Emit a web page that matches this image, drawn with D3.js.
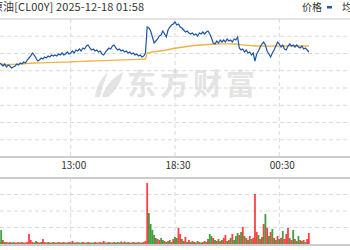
<!doctype html>
<html>
<head>
<script src="https://cdnjs.cloudflare.com/ajax/libs/d3/7.8.5/d3.min.js"></script>
<style>
  body { margin: 0; background: #fff; }
  svg { display: block; }
  text { font-family: "Noto Sans CJK SC", "DejaVu Sans", sans-serif; fill: #333; }
  .grid { stroke: #d9d9d9; stroke-width: 1px; stroke-dasharray: 4,3; }
</style>
</head>
<body>
<svg width="350" height="250"></svg>
<script>
// minute slots, 4 sections of 60 across the full (cropped) chart
var firstSlot = 19;
var tickSlots = [60, 120, 180];
var tickLabels = ["13:00", "18:30", "00:30"];

var prices = [
  55.84,55.83,55.81,55.83,55.80,55.82,55.81,55.79,55.80,55.81,
  55.83,55.82,55.84,55.83,55.85,55.84,55.87,55.89,55.91,55.94,
  55.92,55.89,55.86,55.87,55.89,55.88,55.90,55.89,55.91,55.90,
  55.92,55.91,55.92,55.91,55.93,55.92,55.94,55.92,55.93,55.95,
  55.93,55.94,55.96,55.94,55.97,55.96,55.98,55.96,55.99,55.98,
  56.01,56.02,55.99,55.97,55.98,55.96,55.97,55.95,55.96,55.93,
  55.92,55.95,55.97,55.99,55.98,56.01,56.02,55.99,55.97,55.98,
  55.96,55.97,55.95,55.96,55.94,55.95,55.93,55.94,55.92,55.93,
  55.91,55.92,55.90,55.91,55.94,56.20,56.19,56.16,56.10,56.04,
  56.06,56.08,56.11,56.12,56.16,56.13,56.10,56.17,56.20,56.22,
  56.23,56.25,56.22,56.23,56.20,56.19,56.17,56.15,56.16,56.14,
  56.13,56.14,56.12,56.13,56.11,56.14,56.13,56.15,56.13,56.15,
  56.16,56.13,56.09,56.04,56.03,56.06,56.04,56.07,56.05,56.07,
  56.05,56.08,56.06,56.07,56.05,56.08,56.07,56.10,55.99,55.97,
  55.98,55.95,55.97,55.94,55.95,55.92,55.94,55.86,55.93,55.96,
  56.00,56.03,56.05,56.02,55.96,55.93,55.90,55.94,55.97,56.01,
  56.05,56.03,56.00,56.02,55.98,55.97,56.01,56.03,56.01,56.02,
  56.00,56.02,56.00,55.99,56.01,55.98,55.99,55.97,55.95
];

var avgSlots = [19,23,27,31,35,39,43,47,51,55,59,63,67,71,75,79,83,87,91,95,99,103,
  104,107,111,115,119,123,127,131,135,139,143,147,151,155,159,163,167,171,175,179,183,187,191,195,197];
var avgPrices = [55.830,55.825,55.827,55.832,55.835,55.840,55.842,55.844,55.846,55.848,55.850,
  55.854,55.857,55.860,55.862,55.864,55.867,55.869,55.871,55.874,55.877,55.880,
  55.940,55.950,55.960,55.970,55.985,55.995,56.005,56.015,56.020,56.025,56.030,56.032,56.032,
  56.030,56.022,56.015,56.010,56.010,56.008,56.010,56.010,56.010,56.010,56.010,56.010];

var volumes = [
  1800,8400,2400,1200,1200,900,1200,900,1200,900,
  900,1200,900,1200,900,900,1200,6000,2400,1200,
  900,1800,1200,900,1200,3000,1200,900,1200,900,
  900,1200,900,900,1200,900,900,1200,900,900,
  1200,900,1800,900,900,1200,900,900,1200,900,
  900,1200,900,900,900,1200,900,900,1200,900,
  1800,900,900,1200,900,900,1200,900,1200,900,
  1500,900,1500,900,1200,900,900,1200,900,900,
  1200,900,900,1200,1800,36600,18600,12000,8400,5400,
  3600,3000,2400,3600,2400,1800,1200,1800,2400,1200,
  3000,4200,3600,9600,6000,3000,1800,4200,1200,2400,
  1200,1800,1200,900,1800,1200,900,1200,1800,1200,
  3000,6000,4800,3600,2400,1800,3000,1800,2400,3600,
  5400,1800,2400,3600,6000,2400,4800,6600,5400,7200,
  10200,4800,3600,2400,4800,3000,3600,30000,7200,5400,
  3000,4200,12000,18000,9600,4800,7200,9000,3600,2400,
  4800,3000,3600,7800,3000,6000,9600,3600,2400,8400,
  3000,1800,4800,2400,1800,2400,1200,3000,6600
];
var volumeDirs =
  "ggrgrgrrgr" + "rgrrgrrrrr" + "ggrrgrrgrg" + "rgrgrrgrgr" + "grrgrgrgrg" +
  "rgrggrgrrg" + "rgrgrgrggr" + "grrggrgrgr" + "grgrrrgggg" + "rgrggrgrgr" +
  "rggrrgrrgr" + "grgrgrgrgr" + "rggrgrgrgr" + "rgrgrgggrg" + "rgrgrgrrrg" +
  "rgrgrgrgrg" + "rgrgrrrgrg" + "rggrgrgrr";

var svg = d3.select("svg");

var x = d3.scaleLinear().domain([0, 240]).range([-33.6, 383.6]);
var y = d3.scaleLinear().domain([54.90, 56.28]).range([157, 19]);
var yv = d3.scaleLinear().domain([0, 39600]).range([244, 178]);

var yTicks = d3.range(9).map(i => 54.90 + i * (56.28 - 54.90) / 8);
var vTicks = d3.range(5).map(i => i * 39600 / 4);

// header
svg.append("text")
    .attr("x", -8).attr("y", 11)
    .attr("textLength", 152).attr("lengthAdjust", "spacing")
    .style("font-size", "11px")
    .text("原油[CL00Y] 2025-12-18 01:58");
svg.append("text").attr("x", 302).attr("y", 11).style("font-size", "10px").text("价格");
svg.append("rect").attr("x", 327).attr("y", 6).attr("width", 5).attr("height", 2.5).attr("fill", "#1f5bab");
svg.append("text").attr("x", 342).attr("y", 11).style("font-size", "10px").text("均价");

// watermark
var wm = svg.append("g").attr("fill", "#e4e4e4");
wm.append("path").attr("d", "M95,97 C96,88 100,79 108,72 C105,80 102,88 100,97 Z");
wm.append("path").attr("d", "M102,97 C105,86 113,77 123,72 C121,82 116,91 108,97 Z");
wm.append("text")
    .attr("x", 127).attr("y", 95)
    .style("font-size", "29px").style("font-weight", "bold")
    .style("letter-spacing", "4px").style("fill", "#e4e4e4")
    .text("东方财富");

// price grid
svg.selectAll(".pg").data(yTicks.slice(1, 8)).enter().append("line")
    .attr("class", "grid")
    .attr("x1", 0).attr("x2", 350)
    .attr("y1", d => y(d)).attr("y2", d => y(d));
svg.selectAll(".pv").data(tickSlots).enter().append("line")
    .attr("class", "grid")
    .attr("x1", d => x(d)).attr("x2", d => x(d))
    .attr("y1", y(yTicks[8])).attr("y2", y(yTicks[0]));
svg.append("line").attr("x1", 0).attr("x2", 350).attr("y1", y(yTicks[8])).attr("y2", y(yTicks[8]))
    .attr("stroke", "#c8c8c8");
svg.append("line").attr("x1", 0).attr("x2", 350).attr("y1", y(yTicks[0])).attr("y2", y(yTicks[0]))
    .attr("stroke", "#bdbdbd").attr("stroke-width", 1.5);

// time labels
svg.selectAll(".tl").data(tickSlots).enter().append("text")
    .attr("x", d => x(d) + 3).attr("y", 169)
    .attr("text-anchor", "middle")
    .style("font-size", "10px")
    .text((d, i) => tickLabels[i]);

// average + price lines
svg.append("path")
    .datum(avgSlots.map((s, i) => [s, avgPrices[i]]))
    .attr("fill", "none").attr("stroke", "#efb447").attr("stroke-width", 1.3)
    .attr("d", d3.line().x(d => x(d[0])).y(d => y(d[1])));
svg.append("path")
    .datum(prices)
    .attr("fill", "none").attr("stroke", "#1a56a8").attr("stroke-width", 1.2)
    .attr("d", d3.line().x((d, i) => x(firstSlot + i)).y(d => y(d)));

// volume grid
svg.selectAll(".vg").data(vTicks.slice(1, 4)).enter().append("line")
    .attr("class", "grid")
    .attr("x1", 0).attr("x2", 350)
    .attr("y1", d => yv(d)).attr("y2", d => yv(d));
svg.selectAll(".vv").data(tickSlots).enter().append("line")
    .attr("class", "grid")
    .attr("x1", d => x(d)).attr("x2", d => x(d))
    .attr("y1", yv(vTicks[4])).attr("y2", yv(0));

// volume bars
svg.selectAll(".vb").data(volumes).enter().append("rect")
    .attr("x", (d, i) => x(firstSlot + i) - 0.9)
    .attr("width", 1.8)
    .attr("y", d => yv(d))
    .attr("height", d => yv(0) - yv(d))
    .attr("fill", (d, i) => volumeDirs[i] === "r" ? "#ff0000" : "#008000")
    .attr("fill-opacity", 0.75);

svg.append("line").attr("x1", 0).attr("x2", 350).attr("y1", yv(vTicks[4])).attr("y2", yv(vTicks[4]))
    .attr("stroke", "#cccccc").attr("stroke-width", 2);
svg.append("line").attr("x1", 0).attr("x2", 350).attr("y1", yv(0) + 1).attr("y2", yv(0) + 1)
    .attr("stroke", "#cccccc").attr("stroke-width", 2);
</script>
</body>
</html>
